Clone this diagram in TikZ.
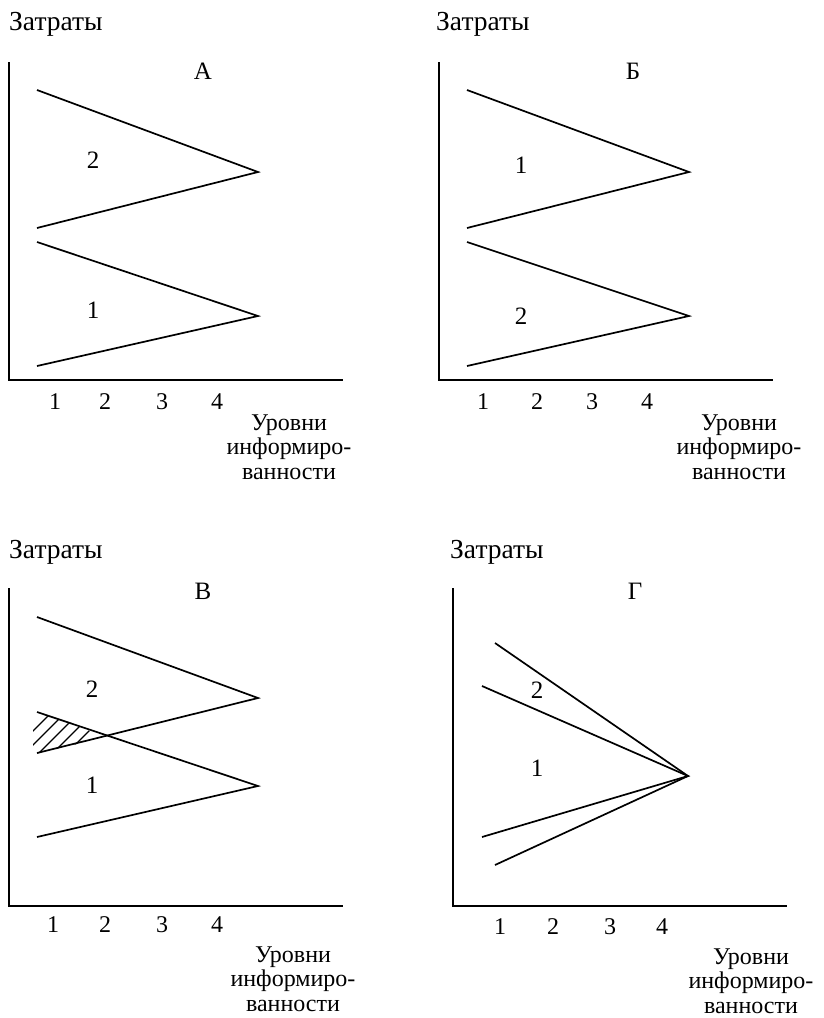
\documentclass[tikz,border=0pt]{standalone}
\usepackage{fontspec}
\setmainfont{Liberation Serif}
\begin{document}
\begin{tikzpicture}[x=1pt,y=-1pt,
  txt/.style={font=\fontsize{25}{25}\selectfont, inner sep=0pt},
  ytitle/.style={font=\fontsize{27.5}{27.5}\selectfont, inner sep=0pt, anchor=west},
  num/.style={font=\fontsize{24}{24}\selectfont, inner sep=0pt},
  lab/.style={font=\fontsize{24}{24.5}\selectfont, inner sep=0pt, align=center},
  axis/.style={line width=1.8pt},
  ln/.style={line width=1.7pt},
  hatch/.style={line width=1.2pt}]
\useasboundingbox (0,0) rectangle (823,1018);

% ---------- Panel A ----------
\node[ytitle] (zA) at (9,24) {Затраты};
\node[txt] (tA) at (203,71) {А};
\coordinate (oA) at (9,380);
\draw[axis] (9,62) -- (oA) -- (343,380);
\coordinate (a1) at (37,90); \coordinate (a2) at (258,172); \coordinate (a3) at (37,228);
\coordinate (a4) at (37,242); \coordinate (a5) at (258,316); \coordinate (a6) at (37,366);
\draw[ln] (a1) -- (a2) -- (a3);
\draw[ln] (a4) -- (a5) -- (a6);
\node[txt] (nA2) at (93,160) {2};
\node[txt] (nA1) at (93,310) {1};
\node[num] (kA1) at (55,402) {1};
\node[num] (kA2) at (105,402) {2};
\node[num] (kA3) at (162,402) {3};
\node[num] (kA4) at (217,402) {4};
\node[lab] (uA) at (289,447) {Уровни\\информиро-\\ванности};

% ---------- Panel B ----------
\node[ytitle] (zB) at (436,24) {Затраты};
\node[txt] (tB) at (633,71) {Б};
\coordinate (oB) at (439,380);
\draw[axis] (439,62) -- (oB) -- (773,380);
\coordinate (b1) at (467,90); \coordinate (b2) at (689,172); \coordinate (b3) at (467,228);
\coordinate (b4) at (467,242); \coordinate (b5) at (689,316); \coordinate (b6) at (467,366);
\draw[ln] (b1) -- (b2) -- (b3);
\draw[ln] (b4) -- (b5) -- (b6);
\node[txt] (nB1) at (521,165) {1};
\node[txt] (nB2) at (521,316) {2};
\node[num] (kB1) at (483,402) {1};
\node[num] (kB2) at (537,402) {2};
\node[num] (kB3) at (592,402) {3};
\node[num] (kB4) at (647,402) {4};
\node[lab] (uB) at (739,447) {Уровни\\информиро-\\ванности};

% ---------- Panel V ----------
\node[ytitle] (zC) at (9,552) {Затраты};
\node[txt] (tC) at (203,591) {В};
\coordinate (oC) at (9,906);
\draw[axis] (9,588) -- (oC) -- (343,906);
\coordinate (c1) at (37,617); \coordinate (c2) at (258,698); \coordinate (c3) at (37,753);
\coordinate (c4) at (37,712); \coordinate (c5) at (258,786); \coordinate (c6) at (37,837);
\begin{scope}
  \clip (33,710.5) -- (107,737) -- (33,754.5) -- cycle;
  \foreach \c in {764,778,792,806,820}
    \draw[hatch] (\c-780,780) -- (\c-690,690);
\end{scope}
\draw[ln] (c1) -- (c2) -- (c3);
\draw[ln] (c4) -- (c5) -- (c6);
\node[txt] (nC2) at (92,689) {2};
\node[txt] (nC1) at (92,785) {1};
\node[num] (kC1) at (53,925) {1};
\node[num] (kC2) at (105,925) {2};
\node[num] (kC3) at (162,925) {3};
\node[num] (kC4) at (217,925) {4};
\node[lab] (uC) at (293,979) {Уровни\\информиро-\\ванности};

% ---------- Panel G ----------
\node[ytitle] (zD) at (450,552) {Затраты};
\node[txt] (tD) at (635,591) {Г};
\coordinate (oD) at (453,906);
\draw[axis] (453,588) -- (oD) -- (787,906);
\coordinate (d0) at (688,776);
\coordinate (d1) at (495,643); \coordinate (d2) at (482,686);
\coordinate (d3) at (482,837); \coordinate (d4) at (495,865);
\draw[ln] (d1) -- (d0) -- (d4);
\draw[ln] (d2) -- (d0) -- (d3);
\node[txt] (nD2) at (537,690) {2};
\node[txt] (nD1) at (537,768) {1};
\node[num] (kD1) at (500,927) {1};
\node[num] (kD2) at (553,927) {2};
\node[num] (kD3) at (610,927) {3};
\node[num] (kD4) at (662,927) {4};
\node[lab] (uD) at (751,981) {Уровни\\информиро-\\ванности};
\end{tikzpicture}
\end{document}
